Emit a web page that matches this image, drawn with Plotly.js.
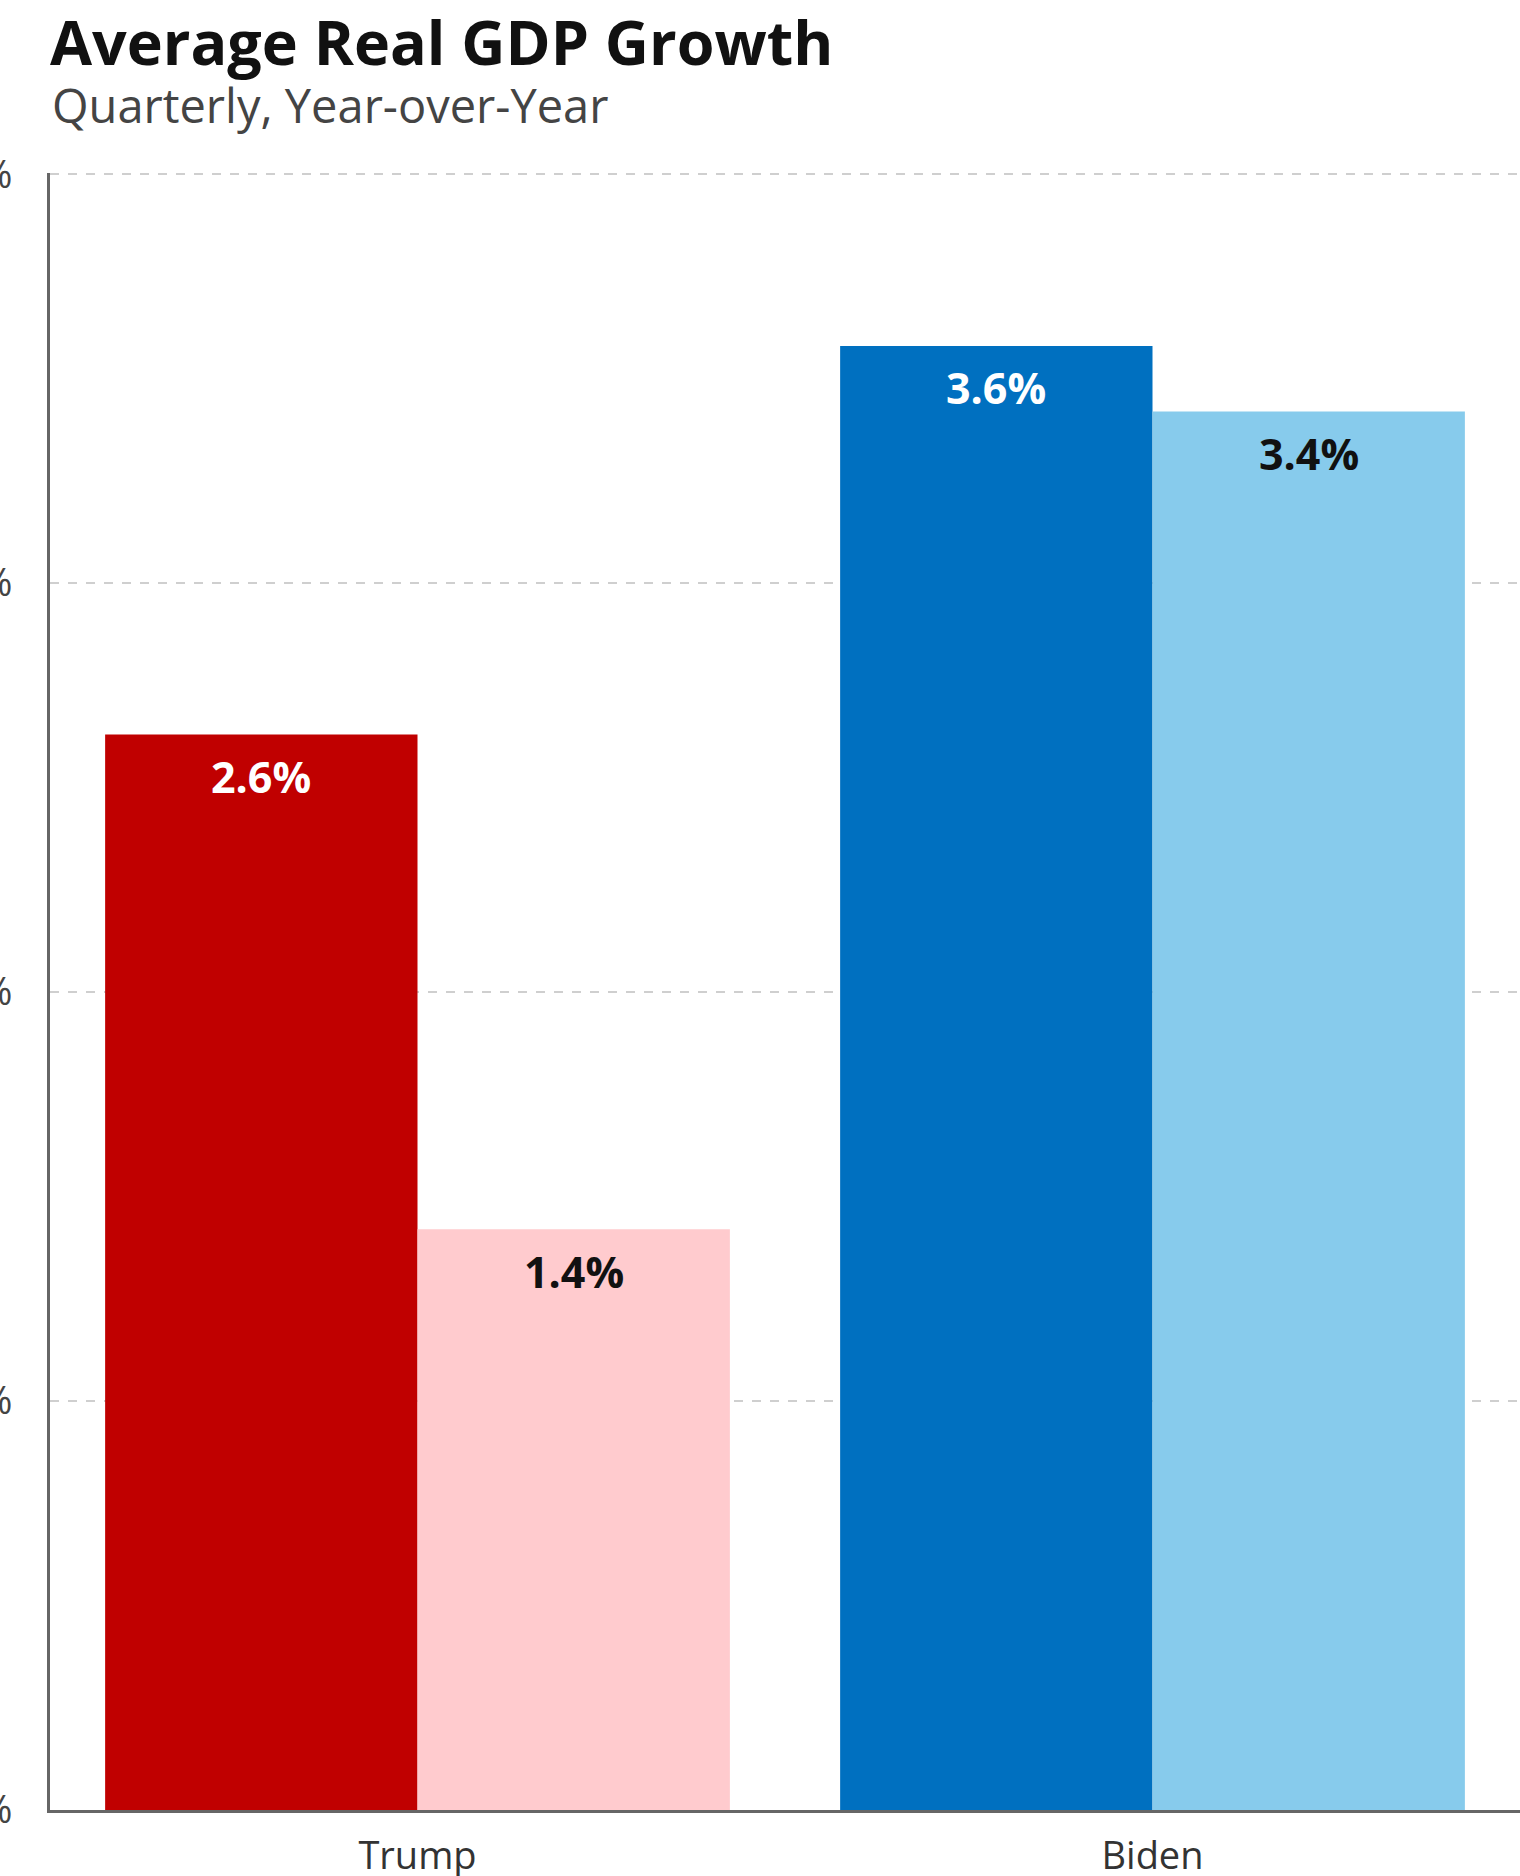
<!DOCTYPE html>
<html>
<head>
<meta charset="utf-8">
<script src="https://cdn.plot.ly/plotly-3.0.1.min.js"></script>
<style>
  html, body { margin: 0; padding: 0; background: #ffffff; }
  #chart { width: 1520px; height: 1876px; }
</style>
</head>
<body>
<div id="chart"></div>
<script>
// ─── Data ─────────────────────────────────────────────────────────────────────
const categories   = ['Trump', 'Biden'];
const seriesA      = [2.63, 3.58];          // first bar in each group
const seriesB      = [1.42, 3.42];          // second bar in each group
const colorsA      = ['#c00000', '#0070c0'];
const colorsB      = ['#ffcbce', '#87cbec'];
const labelColorsA = ['#ffffff', '#ffffff'];
const labelColorsB = ['#111111', '#111111'];
const yTicks       = [0, 1, 2, 3, 4];

const FONT     = 'Open Sans, Lato, sans-serif';
const BAR_GAP  = 0.15;
const HALF_BAR = (1 - BAR_GAP) / 4;        // offset of each bar centre from the category

// ─── Traces ───────────────────────────────────────────────────────────────────
const traces = [
  { type: 'bar', x: categories, y: seriesA, marker: { color: colorsA }, hoverinfo: 'skip' },
  { type: 'bar', x: categories, y: seriesB, marker: { color: colorsB }, hoverinfo: 'skip' },
];

// value labels sit a fixed distance below the top of each bar
function valueLabels(values, colors, offset) {
  return values.map((v, i) => ({
    xref: 'x', yref: 'y',
    x: i + offset, y: v,
    text: v.toFixed(1) + '%',
    showarrow: false,
    yanchor: 'middle',
    yshift: -42,
    font: { family: FONT, size: 43, color: colors[i], weight: 700 },
  }));
}

const annotations = [
  ...valueLabels(seriesA, labelColorsA, -HALF_BAR),
  ...valueLabels(seriesB, labelColorsB, HALF_BAR),
  {
    xref: 'paper', yref: 'paper',
    x: 0, y: 1.0205,
    xanchor: 'left', yanchor: 'bottom',
    text: 'Quarterly, Year-over-Year',
    showarrow: false,
    font: { family: FONT, size: 47, color: '#444444' },
  },
];

const layout = {
  width: 1520,
  height: 1876,
  paper_bgcolor: '#ffffff',
  plot_bgcolor:  '#ffffff',
  margin: { t: 173, b: 66, l: 50, r: 0 },
  title: {
    text: 'Average Real GDP Growth',
    x: 50 / 1520, xanchor: 'left', xref: 'container',
    y: 1 - 22 / 1876, yanchor: 'top', yref: 'container',
    font: { family: FONT, size: 61, color: '#111111', weight: 700 },
  },
  barmode: 'group',
  bargap: BAR_GAP,
  bargroupgap: 0,
  showlegend: false,
  xaxis: {
    type: 'category',
    range: [-0.5, 1.5],
    showline: true,
    linecolor: '#666666',
    linewidth: 3,
    showgrid: false,
    ticks: '',
    ticklabelstandoff: 10,
    tickfont: { family: FONT, size: 38, color: '#333333' },
  },
  yaxis: {
    range: [0, 4.003],
    tickvals: yTicks,
    ticktext: yTicks.map(t => t + '%'),
    showline: true,
    linecolor: '#666666',
    linewidth: 3,
    zeroline: false,
    showgrid: true,
    gridcolor: '#cfcfcf',
    gridwidth: 2,
    griddash: 'dash',
    ticks: '',
    ticklabelstandoff: 27,
    tickfont: { family: FONT, size: 38, color: '#444444' },
    automargin: false,
  },
  annotations,
};

Plotly.newPlot('chart', traces, layout, { staticPlot: true, displayModeBar: false });
</script>
</body>
</html>
